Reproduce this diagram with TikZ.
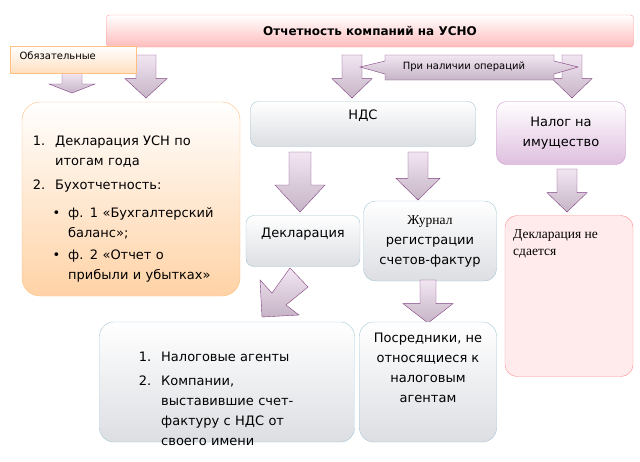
\documentclass[tikz,border=0pt]{standalone}
\usepackage{fontspec}
\setmainfont{DejaVu Sans}
\newfontfamily\serifcyr{Liberation Serif}
\tikzset{
  box/.style={draw, rounded corners=12pt, inner sep=4pt, align=center, font=\fontsize{13}{20}\selectfont},
  bluebox/.style={box, draw=cyan!40!gray!60, top color=white, bottom color=cyan!35!blue!10!gray!25},
  blockarrow/.style={draw=violet!50!gray, top color=violet!10, bottom color=violet!30!gray!45},
  listtext/.style={anchor=north west, inner sep=0pt, text width=200pt, font=\fontsize{13}{20}\selectfont},
}
\newcommand\downarr[5]{% x, ytop, ybottom, half shaft, half head
  \draw[blockarrow] (#1-#4,#2) -- (#1+#4,#2) -- (#1+#4,#3-0.45*#3+0.45*#2) -- (#1+#5,#3-0.45*#3+0.45*#2)
    -- (#1,#3) -- (#1-#5,#3-0.45*#3+0.45*#2) -- (#1-#4,#3-0.45*#3+0.45*#2) -- cycle;}
\begin{document}
\begin{tikzpicture}[x=1pt,y=-1pt]
\useasboundingbox (0,0) rectangle (640,461);
% arrows from the title
\downarr{146}{55}{98}{10}{21}
\downarr{352}{55}{98}{10}{20}
\downarr{572}{55}{98}{10}{20}
\draw[blockarrow] (385,55) -- (554,55) -- (554,61) -- (578,67) -- (554,74) -- (554,80)
  -- (385,80) -- (385,74) -- (360,67) -- (385,61) -- cycle;
\node[font=\fontsize{10}{11}\selectfont] (oper) at (464,67) {При наличии операций};
% title
\node[box, rounded corners=3pt, draw=red!40, top color=white, bottom color=red!25!pink!60,
  minimum width=527pt, minimum height=32pt, font=\bfseries\fontsize{12}{13}\selectfont] (title) at (370,31)
  {Отчетность компаний на УСНО};
% mandatory
\downarr{72}{73}{93}{10}{23}
\node[draw=orange!50, top color=white, bottom color=orange!25, minimum width=126pt, minimum height=27pt,
  anchor=north west, inner sep=0pt] (mand) at (10,46) {};
\node[anchor=west, font=\fontsize{10}{11}\selectfont] (mandtext) at (16,56) {Обязательные};
\node[box, draw=orange!50, top color=white, bottom color=orange!35, minimum width=218pt, minimum height=194pt,
  rounded corners=18pt] (usn) at (131,199) {};
\node[listtext] (usntext) at (28,117)
  {\setlength\leftmargini{27pt}\setlength\leftmarginii{13pt}\setlength\labelsep{10pt}
   \begin{enumerate}\setlength\itemsep{0pt}\setlength\parsep{0pt}\setlength\topsep{0pt}
   \item Декларация УСН по\newline итогам года
   \item Бухотчетность:
     \begin{itemize}\setlength\itemsep{0pt}\setlength\parsep{0pt}\setlength\topsep{0pt}\setlength\labelsep{8pt}
     \item[\textbullet] ф. 1 «Бухгалтерский\newline баланс»;
     \item[\textbullet] ф. 2 «Отчет о\newline прибыли и убытках»
     \end{itemize}
   \end{enumerate}};
% VAT
\node[bluebox, minimum width=225pt, minimum height=45pt, rounded corners=8pt] (vat) at (363,124) {};
\node (vattext) at (363,116) {\fontsize{13}{14}\selectfont НДС};
\downarr{300}{152}{212}{11}{25}
\downarr{418}{152}{200}{10}{22}
\node[bluebox, minimum width=114pt, minimum height=51pt, rounded corners=8pt] (decl) at (303,241) {};
\node (decltext) at (303,234) {\fontsize{13}{14}\selectfont Декларация};
\node[bluebox, minimum width=133pt, minimum height=80pt] (journal) at (430,241)
  {\serifcyr\fontsize{13.5}{19}\selectfont Журнал\\регистрации\\счетов-фактур};
\draw[blockarrow] (290,268) -- (308,287) -- (286,305) -- (299,315) -- (262,317) -- (260,280) -- (272,293) -- cycle;
\downarr{428}{280}{323}{8}{25}
\node[bluebox, minimum width=255pt, minimum height=120pt, rounded corners=14pt] (agents) at (227,382) {};
\node[listtext] (agenttext) at (133,333)
  {\setlength\leftmargini{28pt}\setlength\labelsep{10pt}
   \begin{enumerate}\setlength\itemsep{0pt}\setlength\parsep{0pt}\setlength\topsep{0pt}
   \item Налоговые агенты
   \item Компании,\newline выставившие счет-\newline фактуру с НДС от\newline своего имени
   \end{enumerate}};
\node[bluebox, minimum width=137pt, minimum height=120pt, rounded corners=14pt] (brokers) at (428,382) {};
\node[anchor=north, align=center, inner sep=0pt, font=\fontsize{13}{20}\selectfont] (brokertext) at (428,333)
  {Посредники, не\\относящиеся к\\налоговым\\агентам};
% property tax
\node[box, draw=violet!40, top color=white, bottom color=violet!25, minimum width=129pt, minimum height=63pt,
  rounded corners=10pt] (prop) at (561,133) {Налог на\\имущество};
\downarr{567}{169}{212}{10}{20}
\node[box, draw=red!45, fill=red!8, minimum width=128pt, minimum height=161pt, rounded corners=12pt] (nodecl) at (569,296) {};
\node[anchor=north west, align=left, inner sep=0pt, font=\serifcyr\fontsize{13.5}{17}\selectfont] (nodecltext) at (513,229)
  {Декларация не\\сдается};
\end{tikzpicture}
\end{document}
